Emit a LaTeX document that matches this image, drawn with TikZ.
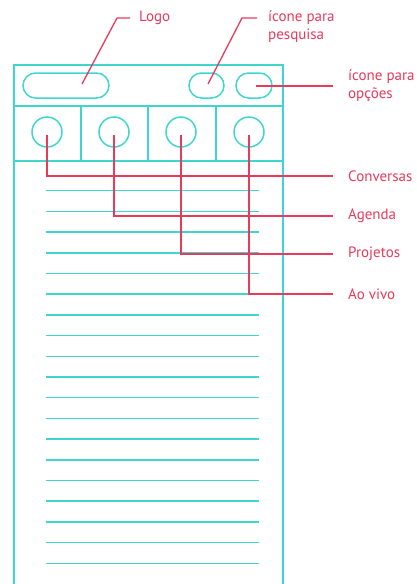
\documentclass[tikz,border=0pt]{standalone}
\usepackage{fontspec}
\setmainfont{PT Sans}
\definecolor{wire}{RGB}{64,214,208}
\definecolor{note}{RGB}{232,58,92}
\tikzset{
  wireline/.style={draw=wire,line width=1.5pt},
  pill/.style={draw=wire,line width=1.5pt,rounded corners=12.5pt,minimum height=25pt,inner sep=0pt},
  tabicon/.style={draw=wire,line width=1.5pt,circle,minimum size=30pt,inner sep=0pt},
  leader/.style={draw=note,line width=1.3pt},
  lbl/.style={text=note,font=\fontsize{15}{18}\selectfont,anchor=west,inner sep=0pt,align=left}
}
\begin{document}
\begin{tikzpicture}[x=1pt,y=-1pt]
\useasboundingbox (0,0) rectangle (416,584);
% frame
\draw[wireline] (14,584) -- (14,65) -- (283,65) -- (283,584);
\draw[wireline] (14,106) -- (283,106);
\draw[wireline] (14,161) -- (283,161);
\foreach \x in {81,148,216} \draw[wireline] (\x,106) -- (\x,161);
% pills
\node[pill,minimum width=86pt] (logo) at (66,85.5) {};
\node[pill,minimum width=35pt] (search) at (206.5,85.5) {};
\node[pill,minimum width=36pt] (opts) at (254,85.5) {};
% tab icons
\node[tabicon] (c1) at (47,132) {};
\node[tabicon] (c2) at (114,132) {};
\node[tabicon] (c3) at (181,132) {};
\node[tabicon] (c4) at (249,132) {};
% list lines
\foreach \i in {0,...,18} \draw[wireline] (46,190.7+20.7*\i) -- (259,190.7+20.7*\i);
% labels
\node[lbl] (tlogo) at (139,18) {Logo};
\node[lbl] (tsearch) at (268,27) {ícone para\\pesquisa};
\node[lbl] (topts) at (348,86) {ícone para\\opções};
\node[lbl] (tconv) at (348,176) {Conversas};
\node[lbl] (tagen) at (348,216) {Agenda};
\node[lbl] (tproj) at (348,254) {Projetos};
\node[lbl] (tvivo) at (348,294) {Ao vivo};
% leader coordinates
\coordinate (lg0) at (82,84);
\coordinate (lg1) at (117,18);
\coordinate (lg2) at (130,18);
\coordinate (sr0) at (208,84);
\coordinate (sr1) at (242,18);
\coordinate (sr2) at (257,18);
\coordinate (op0) at (256,86);
\coordinate (op1) at (333,86);
\draw[leader] (lg0) -- (lg1) -- (lg2);
\draw[leader] (sr0) -- (sr1) -- (sr2);
\draw[leader] (op0) -- (op1);
\draw[leader] (c1.center) ++(0,3) |- (333,176);
\draw[leader] (c2.center) ++(0,3) |- (333,216);
\draw[leader] (c3.center) ++(0,3) |- (333,254);
\draw[leader] (c4.center) ++(0,3) |- (333,294);
\end{tikzpicture}
\end{document}
